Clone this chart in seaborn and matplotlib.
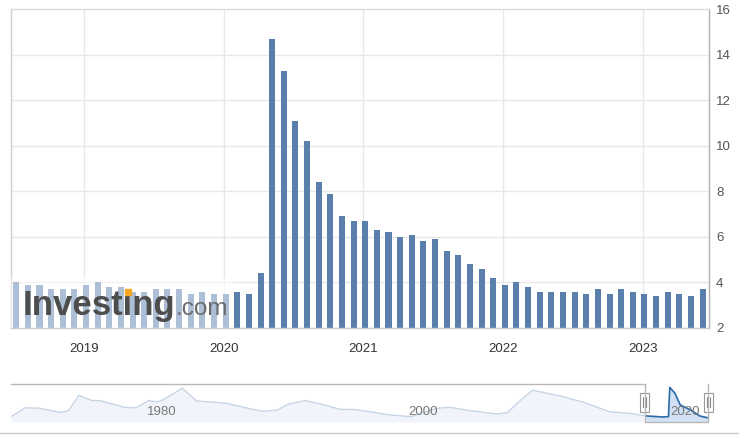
import matplotlib
matplotlib.use('Agg')
import matplotlib.pyplot as plt
import matplotlib.transforms as mtransforms
from matplotlib.patches import Rectangle
from matplotlib.lines import Line2D
import numpy as np
import pandas as pd
import seaborn as sns

# monthly US unemployment rate (%), plotted at the release month
release_months = pd.date_range("2018-07-01", periods=60, freq="MS").strftime("%Y-%m").tolist()
unemployment = [
    4.0, 3.9, 3.9, 3.7, 3.7, 3.7, 3.9,
    4.0, 3.8, 3.8, 3.6, 3.6, 3.7, 3.7, 3.7, 3.5, 3.6, 3.5, 3.5,
    3.6, 3.5, 4.4, 14.7, 13.3, 11.1, 10.2, 8.4, 7.9, 6.9, 6.7, 6.7,
    6.3, 6.2, 6.0, 6.1, 5.8, 5.9, 5.4, 5.2, 4.8, 4.6, 4.2, 3.9,
    4.0, 3.8, 3.6, 3.6, 3.6, 3.6, 3.5, 3.7, 3.5, 3.7, 3.6, 3.5,
    3.4, 3.6, 3.5, 3.4, 3.7,
]
year_labels = ["2019", "2020", "2021", "2022", "2023"]
y_ticks = [2, 4, 6, 8, 10, 12, 14, 16]

# navigator (long history, as drawn in the small overview strip)
nav_years = [1969.7, 1970.8, 1971.9, 1973.5, 1974.1, 1974.9, 1975.9, 1976.5,
             1978.4, 1979.3, 1980.2, 1980.9, 1981.3, 1982.8, 1983.9, 1985.2,
             1986.2, 1987.8, 1989.0, 1990.1, 1990.9, 1992.2, 1993.4, 1994.9,
             1995.9, 1997.2, 1998.7, 2000.3, 2002.3, 2003.3, 2004.8, 2006.9,
             2007.7, 2008.4, 2009.6, 2011.0, 2011.9, 2013.5, 2015.5, 2017.1,
             2018.3, 2019.6, 2020.0, 2020.1, 2020.5, 2020.9, 2021.7, 2022.4, 2023.0]
nav_values = [3.6, 5.8, 5.7, 4.6, 5.1, 8.9, 7.6, 7.6,
              5.9, 5.8, 7.6, 7.3, 7.7, 10.7, 7.5, 7.2,
              6.9, 5.7, 4.9, 5.25, 6.7, 7.6, 6.75, 5.4,
              5.4, 4.8, 4.0, 3.6, 5.7, 5.9, 5.1, 4.25,
              4.6, 6.9, 10.2, 9.25, 8.6, 7.2, 4.8, 4.4,
              3.75, 3.5, 3.6, 10.9, 9.4, 6.5, 5.25, 3.75, 3.3]
nav_label_years = [1980, 2000, 2020]
nav_selected_from = 2018.3

BAR = "#5a7fad"
W, H = 739, 437

sns.set_style("white")
plt.rcParams['font.family'] = ['Liberation Sans', 'DejaVu Sans']

fig = plt.figure(figsize=(W / 100, H / 100), dpi=100)


def fx(x):
    return x / W


def fy(y):
    return 1 - y / H


# ---- main bar chart
ax = fig.add_axes([fx(11), fy(328), 698 / W, 319 / H])
sns.barplot(x=release_months, y=unemployment, color=BAR, width=0.52,
            saturation=1, edgecolor="none", ax=ax)
ax.set_ylim(2, 16)
ax.set_xlim(-0.45, 59.55)
ax.set_xlabel("")
ax.set_ylabel("")
ax.yaxis.tick_right()
ax.set_yticks(y_ticks)
ax.set_yticklabels([str(t) for t in y_ticks])
ax.set_xticks([5.85 + 12 * k for k in range(len(year_labels))])
ax.set_xticklabels(year_labels)
ax.tick_params(axis="y", length=0, pad=5, labelsize=9.5, labelcolor="#555555")
ax.tick_params(axis="x", length=0, pad=11, labelsize=9.5, labelcolor="#333333")
ax.grid(True, color="#e8e8e8", linewidth=1)
ax.set_axisbelow(True)
ax.spines["left"].set_color("#d0d0d0")
ax.spines["top"].set_color("#dddddd")
ax.spines["right"].set_color("#b0b0b0")
ax.spines["bottom"].set_color("#cccccc")
for s in ax.spines.values():
    s.set_linewidth(1)

# watermark
ax.add_patch(Rectangle((0, 0), 0.318, 0.16, transform=ax.transAxes,
                       facecolor="white", alpha=0.5, edgecolor="none", zorder=3))
ax.text(0.0165, 0.041, "Investing", transform=ax.transAxes, fontsize=25,
        fontweight="bold", color="#4d4d4d", va="baseline", zorder=4)
ax.text(0.236, 0.041, ".com", transform=ax.transAxes, fontsize=17.5,
        color="#6b6b6b", va="baseline", zorder=4)
ax.add_line(Line2D([0.1675], [0.114], transform=ax.transAxes, marker="s",
                   markersize=3.8, color="#f5a623", zorder=5))

# ---- navigator
nav = fig.add_axes([fx(11), fy(422), 698 / W, 38 / H])
nav.set_xlim(1969.7, 2023.1)
nav.set_ylim(2.25, 11.75)
nav.axis("off")
nav.fill_between(nav_years, nav_values, 2.25, color="#f1f5fb", linewidth=0)
sns.lineplot(x=nav_years, y=nav_values, color="#c8d5e5", linewidth=1, ax=nav)
sel = [i for i, yv in enumerate(nav_years) if yv >= nav_selected_from]
sel_x = [nav_years[i] for i in sel]
sel_y = [nav_values[i] for i in sel]
nav.fill_between(sel_x, sel_y, 2.25, color="#d2e2f4", linewidth=0)
sns.lineplot(x=sel_x, y=sel_y, color="#2f6cab", linewidth=1.2, ax=nav)
blend = mtransforms.blended_transform_factory(nav.transData, nav.transAxes)
for yr in nav_label_years:
    nav.text(yr + 1.26, 0.27, str(yr), transform=blend, ha="center", va="center",
             fontsize=9.5, color="#777777")

# navigator frame, handles and scrollbar line
lines = [
    ([fx(11), fx(645)], [fy(384), fy(384)]),
    ([fx(645), fx(645)], [fy(384), fy(422)]),
    ([fx(708), fx(708)], [fy(384), fy(422)]),
    ([fx(645), fx(708)], [fy(422), fy(422)]),
]
for xs, ys in lines:
    fig.add_artist(Line2D(xs, ys, transform=fig.transFigure, color="#b8b8b8", linewidth=1))
fig.add_artist(Line2D([0, 1], [fy(433), fy(433)], transform=fig.transFigure,
                      color="#c8c8c8", linewidth=1))
for cx in [644.5, 708]:
    fig.add_artist(Rectangle((fx(cx - 4.5), fy(412)), 9 / W, 19 / H,
                             transform=fig.transFigure, facecolor="white",
                             edgecolor="#999999", linewidth=0.8))
    for dx in [-1.5, 1.5]:
        fig.add_artist(Line2D([fx(cx + dx), fx(cx + dx)], [fy(397), fy(407)],
                              transform=fig.transFigure, color="#888888", linewidth=0.8))

fig.savefig("out.png", dpi=100)
plt.close(fig)
